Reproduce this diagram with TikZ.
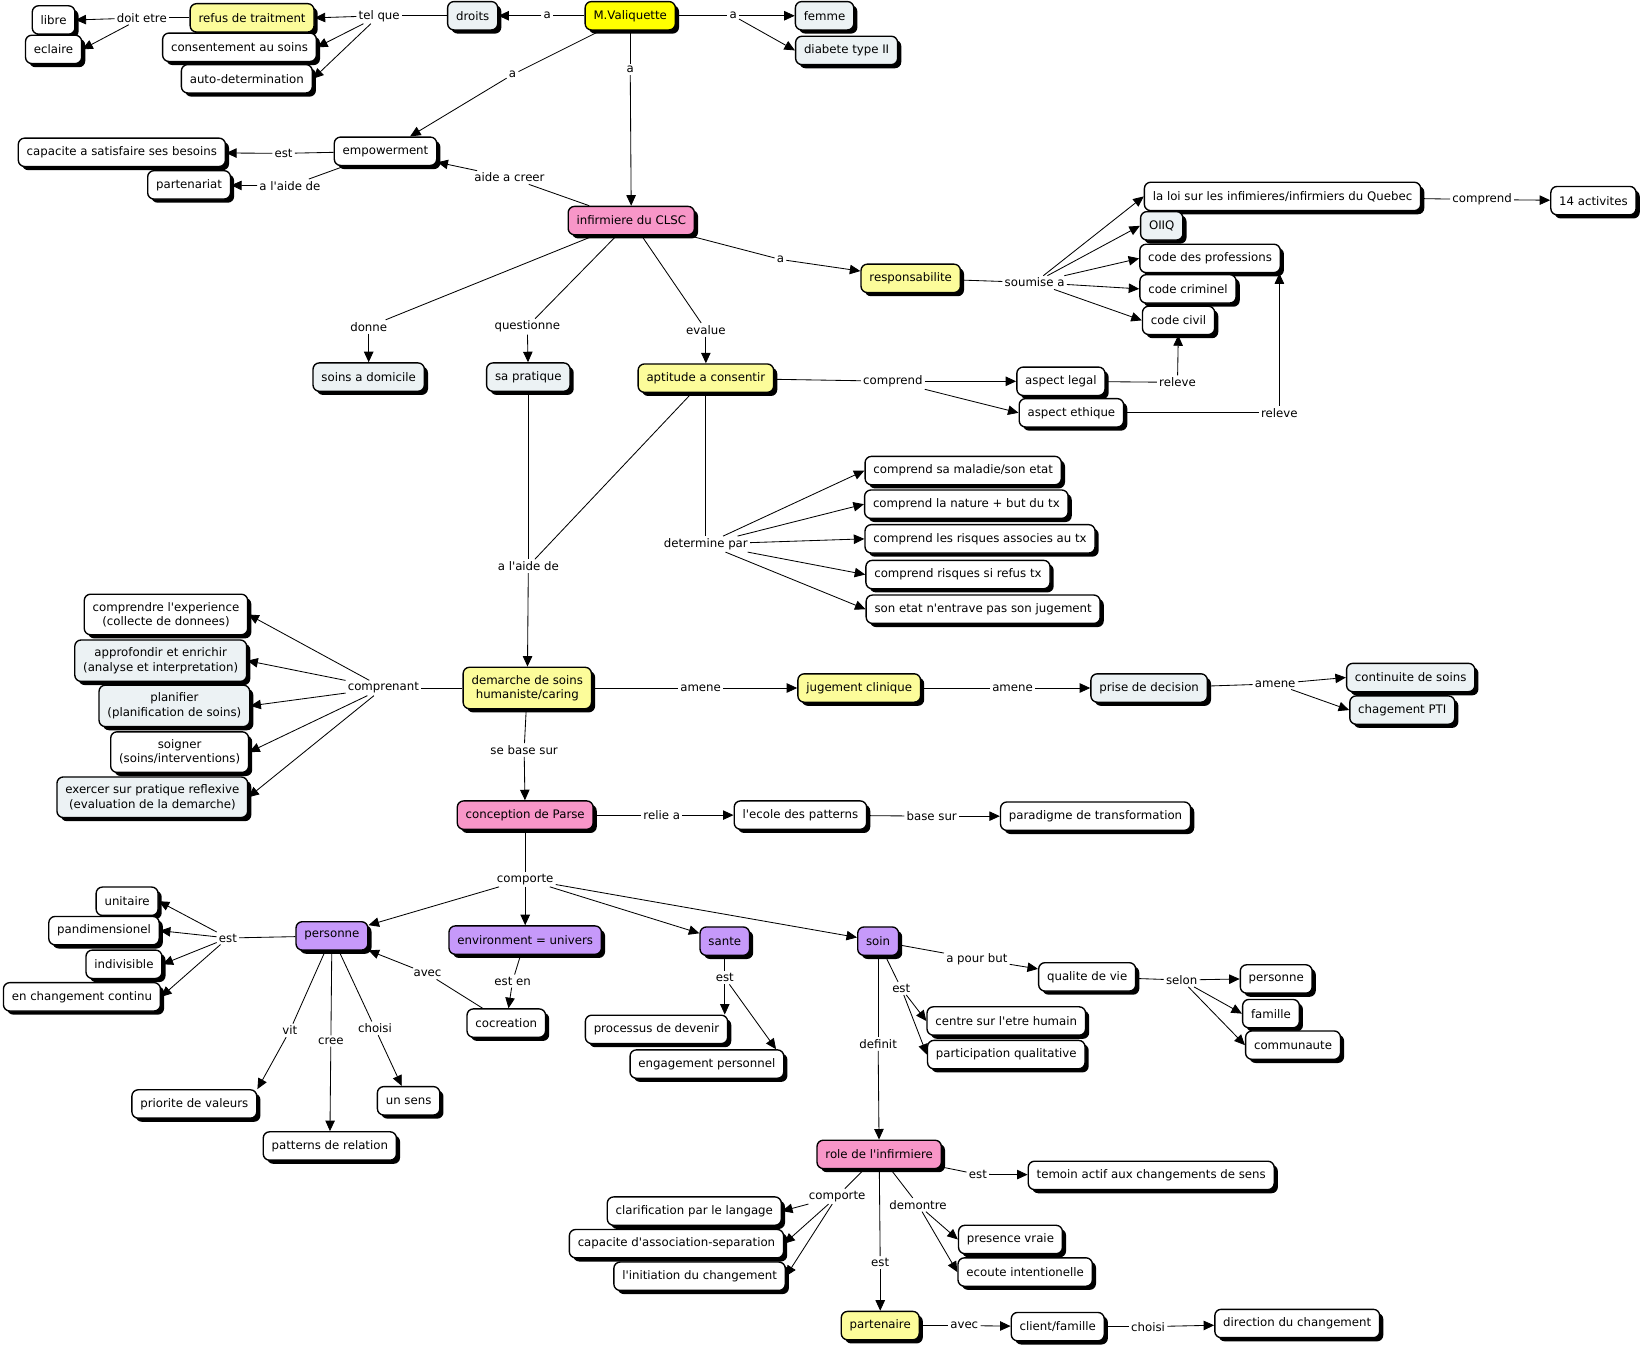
\documentclass[tikz,border=0pt]{standalone}
\usepackage{fontspec}
\setmainfont{DejaVu Sans}
\usetikzlibrary{arrows.meta,shadows,calc}
\definecolor{cyel}{RGB}{255,255,0}
\definecolor{cly}{RGB}{252,252,154}
\definecolor{cpink}{RGB}{248,150,200}
\definecolor{cpurp}{RGB}{198,153,250}
\definecolor{cgray}{RGB}{236,242,244}
\newcommand\qs{\textquotesingle}
\tikzset{
 box/.style={draw=black, line width=1.3pt, rounded corners=6pt, fill=white, minimum height=27pt, inner xsep=8pt, inner ysep=3pt, align=center,
   drop shadow={shadow xshift=3.5pt, shadow yshift=-3.5pt, fill=black, opacity=1}},
 gbox/.style={box, fill=cgray},
 ybox/.style={box, fill=cly},
 Ybox/.style={box, fill=cyel},
 pbox/.style={box, fill=cpink},
 vbox/.style={box, fill=cpurp},
 two/.style={inner ysep=7.5pt},
 lbl/.style={inner sep=2pt},
 ln/.style={line width=0.8pt},
 ar/.style={line width=0.8pt, -{Triangle[length=10pt,width=9pt]}},
}
\begin{document}
\begin{tikzpicture}[x=1pt,y=-1pt, font=\fontsize{11.2}{13.6}\selectfont]
\useasboundingbox[fill=white] (0,0) rectangle (1568,1282);
% ---------- concepts ----------
\node[Ybox] (mval) at (600,15) {M.Valiquette};
\node[gbox] (droits) at (450,15) {droits};
\node[ybox] (refus) at (240,17) {refus de traitment};
\node[box] (libre) at (51,19) {libre};
\node[box] (eclaire) at (51,47) {eclaire};
\node[box] (consent) at (228,45) {consentement au soins};
\node[box] (autodet) at (235,75) {auto-determination};
\node[gbox] (femme) at (785,15) {femme};
\node[gbox] (diabete) at (806,48) {diabete type II};
\node[box] (empow) at (367,144) {empowerment};
\node[box] (capac) at (116,145) {capacite a satisfaire ses besoins};
\node[box] (partenariat) at (180,176) {partenariat};
\node[pbox] (infclsc) at (601,210) {infirmiere du CLSC};
\node[ybox] (resp) at (867,265) {responsabilite};
\node[box] (loi) at (1221,187) {la loi sur les infimieres/infirmiers du Quebec};
\node[gbox] (oiiq) at (1106,215) {OIIQ};
\node[box] (codeprof) at (1152,246) {code des professions};
\node[box] (codecrim) at (1131,275) {code criminel};
\node[box] (codecivil) at (1122,305) {code civil};
\node[box] (act14) at (1517,191) {14 activites};
\node[gbox] (soinsdom) at (351,359) {soins a domicile};
\node[gbox] (sapratique) at (503,359) {sa pratique};
\node[ybox] (aptitude) at (672,360) {aptitude a consentir};
\node[box] (aspleg) at (1010,363) {aspect legal};
\node[box] (aspeth) at (1020,393) {aspect ethique};
\node[box] (c1) at (917,448) {comprend sa maladie/son etat};
\node[box] (c2) at (920,480) {comprend la nature + but du tx};
\node[box] (c3) at (933,513) {comprend les risques associes au tx};
\node[box] (c4) at (912,547) {comprend risques si refus tx};
\node[box] (c5) at (936,580) {son etat n\qs entrave pas son jugement};
\node[ybox,two] (demarche) at (502,655) {demarche de soins\\humaniste/caring};
\node[box,two] (e1) at (158,585) {comprendre l\qs experience\\(collecte de donnees)};
\node[gbox,two] (e2) at (153,629) {approfondir et enrichir\\(analyse et interpretation)};
\node[gbox,two] (e3) at (166,672) {planifier\\(planification de soins)};
\node[box,two] (e4) at (171,716) {soigner\\(soins/interventions)};
\node[gbox,two] (e5) at (145,759) {exercer sur pratique reflexive\\(evaluation de la demarche)};
\node[ybox] (jugement) at (818,655) {jugement clinique};
\node[gbox] (prise) at (1094,655) {prise de decision};
\node[gbox] (contin) at (1343,645) {continuite de soins};
\node[gbox] (chag) at (1335,676) {chagement PTI};
\node[pbox] (parse) at (500,776) {conception de Parse};
\node[box] (ecole) at (762,776) {l\qs ecole des patterns};
\node[box] (paradigme) at (1043,777) {paradigme de transformation};
\node[vbox] (personne) at (316,891) {personne};
\node[vbox] (envir) at (500,895) {environment = univers};
\node[vbox] (sante) at (690,896) {sante};
\node[vbox] (soin) at (836,896) {soin};
\node[box] (unitaire) at (121,858) {unitaire};
\node[box] (pandim) at (99,886) {pandimensionel};
\node[box] (indivis) at (118,918) {indivisible};
\node[box] (enchang) at (78,949) {en changement continu};
\node[box] (cocreation) at (482,974) {cocreation};
\node[box] (priorite) at (185,1051) {priorite de valeurs};
\node[box] (patterns) at (314,1091) {patterns de relation};
\node[box] (unsens) at (389,1048) {un sens};
\node[box] (processus) at (625,980) {processus de devenir};
\node[box] (engagement) at (673,1013) {engagement personnel};
\node[box] (qualite) at (1035,930) {qualite de vie};
\node[box] (centre) at (958,972) {centre sur l\qs etre humain};
\node[box] (particip) at (958,1004) {participation qualitative};
\node[box] (pers2) at (1215,932) {personne};
\node[box] (famille) at (1210,965) {famille};
\node[box] (communaute) at (1231,995) {communaute};
\node[pbox] (role) at (837,1099) {role de l\qs infirmiere};
\node[box] (temoin) at (1096,1119) {temoin actif aux changements de sens};
\node[box] (clarif) at (661,1153) {clarification par le langage};
\node[box] (capasso) at (644,1184) {capacite d\qs association-separation};
\node[box] (initiation) at (666,1215) {l\qs initiation du changement};
\node[box] (presence) at (962,1180) {presence vraie};
\node[box] (ecoute) at (976,1211) {ecoute intentionelle};
\node[ybox] (partenaire) at (838,1262) {partenaire};
\node[box] (client) at (1007,1263) {client/famille};
\node[box] (direction) at (1235,1260) {direction du changement};
% ---------- linking phrases ----------
\node[lbl] (la1) at (521,15) {a};
\node[lbl] (ltelque) at (361,15) {tel que};
\node[lbl] (ldoit) at (135,17) {doit etre};
\node[lbl] (la2) at (698,15) {a};
\node[lbl] (la3) at (488,71) {a};
\node[lbl] (la4) at (600,66) {a};
\node[lbl] (lest1) at (270,146) {est};
\node[lbl] (laide1) at (276,177) {a l\qs aide de};
\node[lbl] (lcreer) at (485,169) {aide a creer};
\node[lbl] (la5) at (743,247) {a};
\node[lbl] (lsoum) at (985,269) {soumise a};
\node[lbl] (lcompr1) at (1411,190) {comprend};
\node[lbl] (ldonne) at (351,311) {donne};
\node[lbl] (lquest) at (502,311) {questionne};
\node[lbl] (leval) at (672,314) {evalue};
\node[lbl] (lcompr2) at (850,363) {comprend};
\node[lbl] (lrel1) at (1121,364) {releve};
\node[lbl] (lrel2) at (1218,393) {releve};
\node[lbl] (ldet) at (672,518) {determine par};
\node[lbl] (laide2) at (503,539) {a l\qs aide de};
\node[lbl] (lcompren) at (365,655) {comprenant};
\node[lbl] (lamene1) at (667,655) {amene};
\node[lbl] (lamene2) at (964,655) {amene};
\node[lbl] (lamene3) at (1214,651) {amene};
\node[lbl] (lbase) at (499,714) {se base sur};
\node[lbl] (lrelie) at (630,776) {relie a};
\node[lbl] (lbasesur) at (887,777) {base sur};
\node[lbl] (lcomp) at (500,837) {comporte};
\node[lbl] (lest2) at (217,893) {est};
\node[lbl] (lavec1) at (407,927) {avec};
\node[lbl] (lesten) at (488,934) {est en};
\node[lbl] (lvit) at (276,981) {vit};
\node[lbl] (lcree) at (315,991) {cree};
\node[lbl] (lchoisi) at (357,979) {choisi};
\node[lbl] (lest3) at (690,931) {est};
\node[lbl] (lapb) at (930,913) {a pour but};
\node[lbl] (lest4) at (858,941) {est};
\node[lbl] (ldef) at (836,994) {definit};
\node[lbl] (lselon) at (1125,933) {selon};
\node[lbl] (lest5) at (931,1118) {est};
\node[lbl] (lcomp2) at (797,1139) {comporte};
\node[lbl] (ldem) at (874,1147) {demontre};
\node[lbl] (lest6) at (838,1202) {est};
\node[lbl] (lavec2) at (918,1262) {avec};
\node[lbl] (lchoisi2) at (1093,1263) {choisi};
% ---------- connectors ----------
\draw[ln] (mval) -- (la1); \draw[ar] (la1) -- (droits);
\draw[ln] (droits) -- (ltelque);
\foreach \t in {refus,consent,autodet} \draw[ar] (ltelque) -- (\t.east);
\draw[ln] (refus) -- (ldoit);
\foreach \t in {libre,eclaire} \draw[ar] (ldoit) -- (\t.east);
\draw[ln] (mval) -- (la2);
\foreach \t in {femme,diabete} \draw[ar] (la2) -- (\t.west);
\draw[ln] (mval) -- (la3); \draw[ar] (la3) -- (empow);
\draw[ln] (mval) -- (la4); \draw[ar] (la4) -- (infclsc);
\draw[ln] (empow) -- (lest1); \draw[ar] (lest1) -- (capac);
\draw[ln] (empow) -- (laide1); \draw[ar] (laide1) -- (partenariat);
\draw[ln] (infclsc) -- (lcreer); \draw[ar] (lcreer) -- (empow);
\draw[ln] (infclsc) -- (la5); \draw[ar] (la5) -- (resp);
\draw[ln] (resp) -- (lsoum);
\foreach \t in {loi,oiiq,codeprof,codecrim,codecivil} \draw[ar] (lsoum) -- (\t.west);
\draw[ln] (loi) -- (lcompr1); \draw[ar] (lcompr1) -- (act14);
\draw[ln] (infclsc) -- (ldonne); \draw[ar] (ldonne) -- (soinsdom);
\draw[ln] (infclsc) -- (lquest); \draw[ar] (lquest) -- (sapratique);
\draw[ln] (infclsc) -- (leval); \draw[ar] (leval) -- (aptitude);
\draw[ln] (aptitude) -- (lcompr2);
\foreach \t in {aspleg,aspeth} \draw[ar] (lcompr2) -- (\t.west);
\draw[ln] (aspleg) -- (lrel1); \draw[ar] (lrel1) -- (codecivil);
\draw[ln] (aspeth) -- (lrel2); \draw[ar] (lrel2) -- (lrel2 |- codeprof.south);
\draw[ln] (aptitude) -- (ldet);
\foreach \t in {c1,c2,c3,c4,c5} \draw[ar] (ldet) -- (\t.west);
\draw[ln] (sapratique) -- (laide2); \draw[ln] (aptitude) -- (laide2);
\draw[ar] (laide2) -- (demarche);
\draw[ln] (demarche) -- (lcompren);
\foreach \t in {e1,e2,e3,e4,e5} \draw[ar] (lcompren) -- (\t.east);
\draw[ln] (demarche) -- (lamene1); \draw[ar] (lamene1) -- (jugement);
\draw[ln] (jugement) -- (lamene2); \draw[ar] (lamene2) -- (prise);
\draw[ln] (prise) -- (lamene3);
\foreach \t in {contin,chag} \draw[ar] (lamene3) -- (\t.west);
\draw[ln] (demarche) -- (lbase); \draw[ar] (lbase) -- (parse);
\draw[ln] (parse) -- (lrelie); \draw[ar] (lrelie) -- (ecole);
\draw[ln] (ecole) -- (lbasesur); \draw[ar] (lbasesur) -- (paradigme);
\draw[ln] (parse) -- (lcomp);
\foreach \t in {personne,envir,sante,soin} \draw[ar] (lcomp) -- (\t);
\draw[ln] (personne) -- (lest2);
\foreach \t in {unitaire,pandim,indivis,enchang} \draw[ar] (lest2) -- (\t.east);
\draw[ln] (cocreation) -- (lavec1); \draw[ar] (lavec1) -- (personne);
\draw[ln] (envir) -- (lesten); \draw[ar] (lesten) -- (cocreation);
\draw[ln] (personne) -- (lvit); \draw[ar] (lvit) -- (priorite.north east);
\draw[ln] (personne) -- (lcree); \draw[ar] (lcree) -- (patterns);
\draw[ln] (personne) -- (lchoisi); \draw[ar] (lchoisi) -- (unsens);
\draw[ln] (sante) -- (lest3);
\draw[ar] (lest3) -- (lest3 |- processus.north);
\draw[ar] (lest3) -- ($(engagement.north east)+(-8,0)$);
\draw[ln] (soin) -- (lapb); \draw[ar] (lapb) -- (qualite);
\draw[ln] (soin) -- (lest4);
\foreach \t in {centre,particip} \draw[ar] (lest4) -- (\t.west);
\draw[ln] (soin) -- (ldef); \draw[ar] (ldef) -- (role);
\draw[ln] (qualite) -- (lselon);
\foreach \t in {pers2,famille,communaute} \draw[ar] (lselon) -- (\t.west);
\draw[ln] (role) -- (lest5); \draw[ar] (lest5) -- (temoin);
\draw[ln] (role) -- (lcomp2);
\foreach \t in {clarif,capasso,initiation} \draw[ar] (lcomp2) -- (\t.east);
\draw[ln] (role) -- (ldem);
\foreach \t in {presence,ecoute} \draw[ar] (ldem) -- (\t.west);
\draw[ln] (role) -- (lest6); \draw[ar] (lest6) -- (partenaire);
\draw[ln] (partenaire) -- (lavec2); \draw[ar] (lavec2) -- (client);
\draw[ln] (client) -- (lchoisi2); \draw[ar] (lchoisi2) -- (direction);
\end{tikzpicture}
\end{document}
